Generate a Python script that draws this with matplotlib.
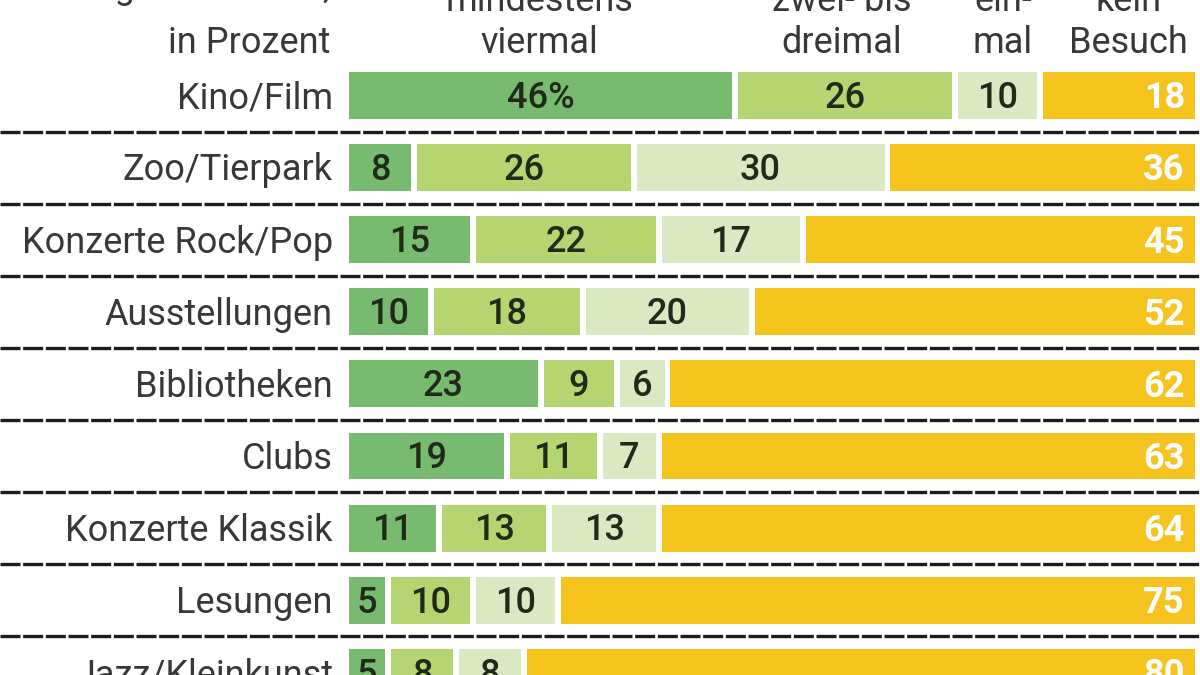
import matplotlib
matplotlib.use('Agg')
import matplotlib.pyplot as plt
import numpy as np

plt.rcParams['font.family'] = ['Roboto', 'DejaVu Sans']

# data
categories = ['Kino/Film', 'Zoo/Tierpark', 'Konzerte Rock/Pop', 'Ausstellungen',
              'Bibliotheken', 'Clubs', 'Konzerte Klassik', 'Lesungen', 'Jazz/Kleinkunst']
viermal = [46, 8, 15, 10, 23, 19, 11, 5, 5]
dreimal = [26, 26, 22, 18, 9, 11, 13, 10, 8]
einmal = [10, 30, 17, 20, 6, 7, 13, 10, 8]
kein = [18, 36, 45, 52, 62, 63, 64, 75, 80]
headers = [('mindestens', 'viermal'), ('zwei- bis', 'dreimal'), ('ein-', 'mal'), ('kein', 'Besuch')]

green_cols = ['#78ba6f', '#b5d570', '#dbe9c2']
yellow = '#f6c41e'
text_col = '#383838'
fs = 26

fig = plt.figure(figsize=(12, 6.75), dpi=100)
# axes: x 0..100 -> px 349..1195, rows 72.1 px apart, first row at 95.5 px
ax = fig.add_axes([349 / 1200, 0, 846 / 1200, 1])
row_px = 72.1
top = -95.5 / row_px
bottom = (675 - 95.5) / row_px
ax.set_xlim(0, 100)
ax.set_ylim(bottom, top)
ax.axis('off')

y = np.arange(len(categories))
h = 0.65
gap = 0.7
left = np.zeros(len(categories))
for vals, col in zip([viermal, dreimal, einmal], green_cols):
    vals = np.array(vals)
    ax.barh(y, vals - gap, left=left, height=h, color=col, edgecolor='none')
    for i, v in enumerate(vals):
        lab = f'{v}%' if i == 0 and col == green_cols[0] else str(v)
        ax.text(left[i] + (v - gap) / 2, i + 0.04, lab, ha='center', va='center',
                fontsize=fs, color='#1f2a18', fontweight='medium')
    left = left + vals

# "kein Besuch" fills the rest of the row
ax.barh(y, 100 - left, left=left, height=h, color=yellow, edgecolor='none')
for i, v in enumerate(kein):
    ax.text(98.8, i + 0.04, str(v), ha='right', va='center', fontsize=fs,
            color='white', fontweight='bold')

for i, c in enumerate(categories):
    ax.text(-1.9, i + 0.04, c, ha='right', va='center', fontsize=fs, color=text_col)

# separators
for i in range(len(categories) - 1):
    ax.axhline(i + 0.5, xmin=-349 / 846, xmax=1200 / 846 - 349 / 846 + 0.01,
               color='#1c1c1c', lw=2.4, ls=(0, (6, 0.8)), clip_on=False)

# column headers
hx = [22.5, 58.2, 77.3, 92.1]
l1 = (11 - 95.5) / row_px
l2 = (53 - 95.5) / row_px
for x, (a, b) in zip(hx, headers):
    ax.text(x, l1, a, ha='center', va='baseline', fontsize=fs, color=text_col)
    ax.text(x, l2, b, ha='center', va='baseline', fontsize=fs, color=text_col)
ax.text(-2.2, (-2 - 95.5) / row_px, 'Häufigkeit im Jahr,', ha='right', va='baseline',
        fontsize=fs, color=text_col)
ax.text(-2.2, l2, 'in Prozent', ha='right', va='baseline', fontsize=fs, color=text_col)

fig.savefig('out.png', dpi=100)
